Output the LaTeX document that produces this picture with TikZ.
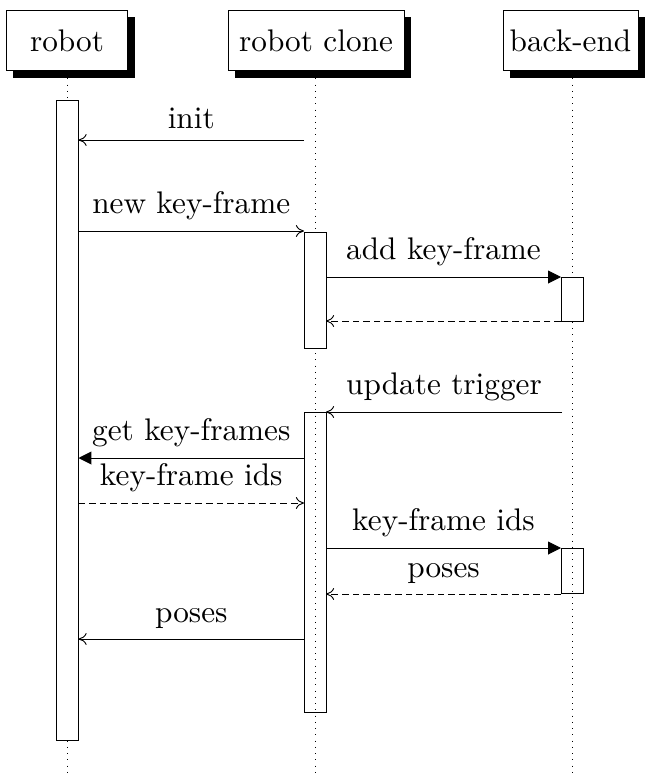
\documentclass[tikz,border=0pt]{standalone}
\usetikzlibrary{arrows.meta,shadows}
\begin{document}
\begin{tikzpicture}[x=0.32pt,y=-0.32pt, line width=0.3pt,
  inst/.style={draw, fill=white, inner sep=0pt, minimum height=19.4pt,
    drop shadow={opacity=1, fill=black, shadow xshift=2.2pt, shadow yshift=-2.2pt}},
  lifeline/.style={line width=0.3pt, dash pattern=on 0.3pt off 1.7pt},
  act/.style={draw, inner sep=0pt, minimum width=7.04pt},
  call/.style={-{To[length=2.6pt,width=3.8pt]}},
  sync/.style={-{Triangle[length=4.1pt,width=4.1pt]}},
  reply/.style={-{To[length=2.6pt,width=3.8pt]}, dash pattern=on 2.1pt off 1.3pt},
  lbl/.style={above}]
\path[use as bounding box] (0,0) rectangle (650,774);

% lifeline ends
\coordinate (robotEnd) at (67.5,774);
\coordinate (cloneEnd) at (315,774);
\coordinate (backEnd) at (572,774);
\coordinate (robotTop) at (67.5,72);
\coordinate (cloneTop) at (315,72);
\coordinate (backTop) at (572,72);

% lifelines
\draw[lifeline] (robotTop) -- (robotEnd);
\draw[lifeline] (cloneTop) -- (cloneEnd);
\draw[lifeline] (backTop) -- (backEnd);

% instance headers
\node[inst, minimum width=39pt] (robot) at (67,40.5) {robot};
\node[inst, minimum width=56.3pt] (clone) at (316,40.5) {robot clone};
\node[inst, minimum width=43.2pt] (backend) at (570.5,40.5) {back-end};

% activation bars
\node[act, fill=white, minimum height=204.8pt] (ra) at (67.5,420.5) {};
\node[act, fill=white, minimum height=37.1pt] (ca1) at (315,290) {};
\node[act, fill=white, minimum height=14.1pt] (ba1) at (572,299) {};
\node[act, minimum height=96pt] (ca2) at (315,562) {};
\node[act, minimum height=14.4pt] (ba2) at (572,571) {};

% message end points
\coordinate (m1a) at (304,140);   \coordinate (m1b) at (78.5,140);
\coordinate (m2a) at (78.5,231);  \coordinate (m2b) at (304,231);
\coordinate (m3a) at (326,277);   \coordinate (m3b) at (561,277);
\coordinate (m4a) at (561,321);   \coordinate (m4b) at (326,321);
\coordinate (m5a) at (562,412);   \coordinate (m5b) at (326,412);
\coordinate (m6a) at (304,458);   \coordinate (m6b) at (78.5,458);
\coordinate (m7a) at (78.5,503);  \coordinate (m7b) at (304,503);
\coordinate (m8a) at (326,548);   \coordinate (m8b) at (561,548);
\coordinate (m9a) at (561,594);   \coordinate (m9b) at (326,594);
\coordinate (m10a) at (304,639);  \coordinate (m10b) at (78.5,639);

% messages
\draw[call]  (m1a) -- node[lbl] {init} (m1b);
\draw[call]  (m2a) -- node[lbl] {new key-frame} (m2b);
\draw[sync]  (m3a) -- node[lbl] {add key-frame} (m3b);
\draw[reply] (m4a) -- (m4b);
\draw[call]  (m5a) -- node[lbl] {update trigger} (m5b);
\draw[sync]  (m6a) -- node[lbl] {get key-frames} (m6b);
\draw[reply] (m7a) -- node[lbl] {key-frame ids} (m7b);
\draw[sync]  (m8a) -- node[lbl] {key-frame ids} (m8b);
\draw[reply] (m9a) -- node[lbl] {poses} (m9b);
\draw[call]  (m10a) -- node[lbl] {poses} (m10b);
\end{tikzpicture}
\end{document}
